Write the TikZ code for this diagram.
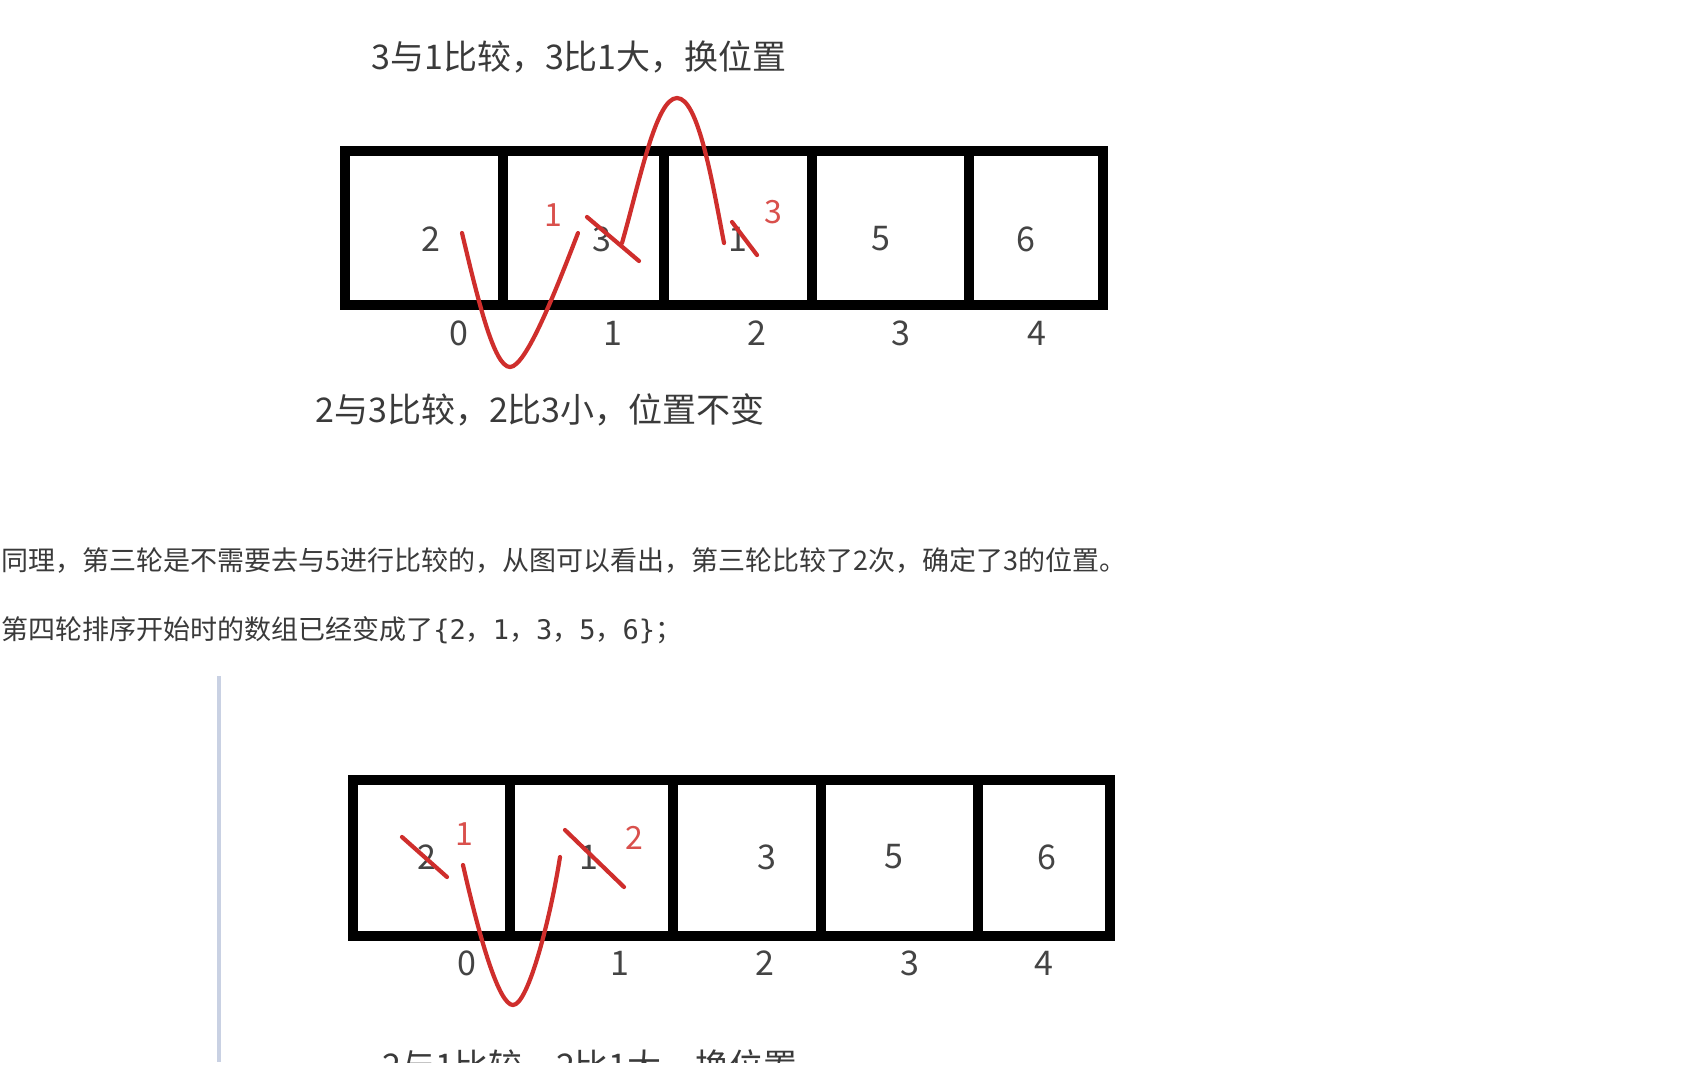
\documentclass[tikz,border=0pt]{standalone}
\usepackage{fontspec}
\setmainfont{Noto Sans CJK SC}
\newfontfamily\codefont{DejaVu Sans Mono}
\definecolor{inkgrey}{HTML}{3A3A3A}
\definecolor{numgrey}{HTML}{444444}
\definecolor{penred}{HTML}{CF2E2C}
\definecolor{labred}{HTML}{D9504C}
\definecolor{barblue}{HTML}{C9D1E3}
\begin{document}
\begin{tikzpicture}[x=0.5pt,y=-0.5pt,
  caption/.style={inner sep=0pt,text=inkgrey,font=\fontsize{17pt}{20pt}\selectfont},
  para/.style={inner sep=0pt,anchor=west,text=inkgrey,font=\fontsize{13.5pt}{16pt}\selectfont},
  cellnum/.style={inner sep=0pt,text=numgrey,font=\fontsize{17pt}{20pt}\selectfont},
  idxnum/.style={inner sep=0pt,text=numgrey,font=\fontsize{17pt}{20pt}\selectfont},
  rednum/.style={inner sep=0pt,text=labred,font=\fontsize{16pt}{19pt}\selectfont},
  outerbox/.style={draw=black,line width=5.25pt},
  divider/.style={draw=black,line width=4.6pt},
  pen/.style={draw=penred,line width=2.1pt,line cap=round,line join=round}]
\fill[white] (0,0) rectangle (1702,1084);
\useasboundingbox (0,0) rectangle (1702,1084);

% ---------- first array ----------
\node[caption] (capA) at (579,57) {3与1比较，3比1大，换位置};
\draw[outerbox] (345,151) rectangle (1103,305);
\foreach \x in {503,664,812,969} \draw[divider] (\x,151) -- (\x,305);
\node[cellnum] (a0) at (431,239) {2};
\node[cellnum] (a1) at (602,239) {3};
\node[cellnum] (a2) at (738,239) {1};
\node[cellnum] (a3) at (881,239) {5};
\node[cellnum] (a4) at (1026,239) {6};
\node[idxnum] (ai0) at (459,333) {0};
\node[idxnum] (ai1) at (613,333) {1};
\node[idxnum] (ai2) at (757,333) {2};
\node[idxnum] (ai3) at (901,333) {3};
\node[idxnum] (ai4) at (1037,333) {4};
\node[rednum] (ar1) at (553,215) {1};
\node[rednum] (ar2) at (773,212) {3};
\node[caption] (capB) at (540,410) {2与3比较，2比3小，位置不变};
% red pen marks
\draw[pen] (462,233) .. controls (478,300) and (494,367) .. (510,367)
                     .. controls (526,367) and (556,290) .. (578,233);
\draw[pen] (587,217) -- (639,261);
\draw[pen] (622,243) .. controls (640,180) and (656,98) .. (677,98)
                     .. controls (698,98) and (712,180) .. (724,243);
\draw[pen] (732,222) -- (757,255);

% ---------- text lines ----------
\node[para] (p1) at (1,560) {同理，第三轮是不需要去与5进行比较的，从图可以看出，第三轮比较了2次，确定了3的位置。};
\node[para] (p2) at (1,630) {第四轮排序开始时的数组已经变成了{\codefont\{2}，{\codefont 1}，{\codefont 3}，{\codefont 5}，{\codefont 6\}}；};

% ---------- quote bar ----------
\draw[barblue,line width=2.4pt] (219,676) -- (219,1062);

% ---------- second array ----------
\draw[outerbox] (353,780) rectangle (1110,936);
\foreach \x in {510,673,821,978} \draw[divider] (\x,780) -- (\x,936);
\node[cellnum] (b0) at (427,857) {2};
\node[cellnum] (b1) at (589,857) {1};
\node[cellnum] (b2) at (767,857) {3};
\node[cellnum] (b3) at (894,857) {5};
\node[cellnum] (b4) at (1047,857) {6};
\node[idxnum] (bi0) at (467,963) {0};
\node[idxnum] (bi1) at (620,963) {1};
\node[idxnum] (bi2) at (765,963) {2};
\node[idxnum] (bi3) at (910,963) {3};
\node[idxnum] (bi4) at (1044,963) {4};
\node[rednum] (br1) at (464,834) {1};
\node[rednum] (br2) at (634,838) {2};
\draw[pen] (402,837) -- (447,877);
\draw[pen] (565,830) -- (624,887);
\draw[pen] (463,865) .. controls (480,940) and (499,1005) .. (513,1005)
                     .. controls (528,1005) and (550,920) .. (560,857);
\begin{scope}
\clip (0,0) rectangle (1702,1062);
\node[caption] (capC) at (590,1066) {2与1比较，2比1大，换位置};
\end{scope}
\end{tikzpicture}
\end{document}
